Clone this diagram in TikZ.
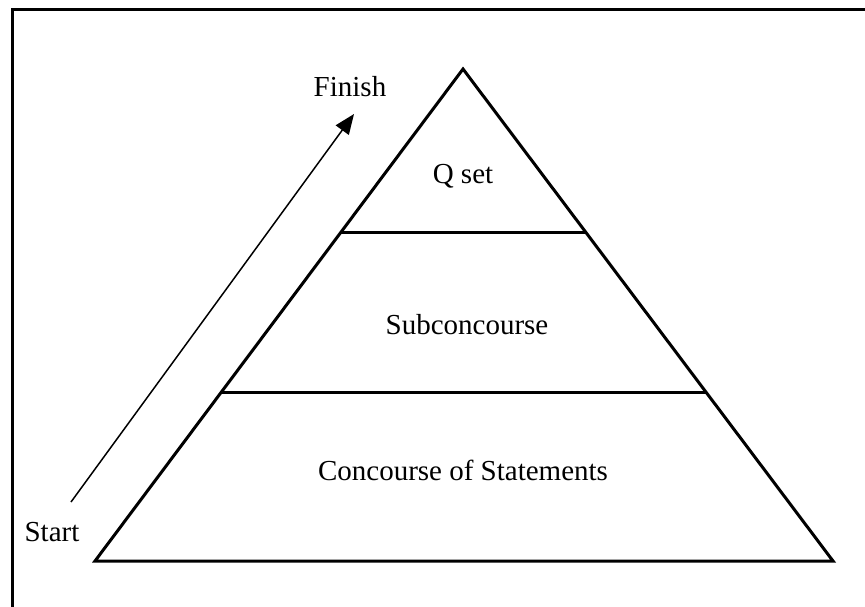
\documentclass[tikz,border=0pt]{standalone}
\usepackage{fontspec}
\setmainfont{Liberation Serif}
\usepackage{tikz}
\usetikzlibrary{arrows.meta, positioning, calc}
\tikzset{every node/.append style={align=center}}
\tikzset{
  lvl/.style={font=\fontsize{14.5}{17}\selectfont, inner sep=0pt},
  edge/.style={line width=1.5pt, line join=miter},
  divider/.style={line width=1.5pt},
  arrow/.style={-{Triangle[length=10pt,width=8pt]}, line width=0.75pt},
  frame/.style={line width=1.5pt}
}
\begin{document}
\begin{tikzpicture}[x=0.5pt, y=-0.5pt]
  \useasboundingbox (0,0) rectangle (865,606);
  \clip (0,0) rectangle (865,606);
  \draw[frame] (12,9) rectangle (880,620);
  % pyramid
  \coordinate (apex) at (463,69);
  \coordinate (bl) at (95,561);
  \coordinate (br) at (833,561);
  \draw[edge] (bl) -- (apex) -- (br) -- cycle;
  \draw[divider] ($(bl)!0.6667!(apex)$) coordinate (q1) -- ($(br)!0.6667!(apex)$) coordinate (q2);
  \draw[divider] ($(bl)!0.342!(apex)$) coordinate (s1) -- ($(br)!0.342!(apex)$) coordinate (s2);
  \node[lvl] (qset) at (463,176) {Q set};
  \node[lvl] (subc) at (467,325) {Subconcourse};
  \node[lvl] (conc) at (463,470) {Concourse of Statements};
  % direction
  \node[lvl] (start) at (52,532) {Start};
  \node[lvl] (finish) at (350,87) {Finish};
  \coordinate (from) at (71,502);
  \coordinate (to) at (354,114);
  \draw[arrow] (from) -- (to);
\end{tikzpicture}
\end{document}
